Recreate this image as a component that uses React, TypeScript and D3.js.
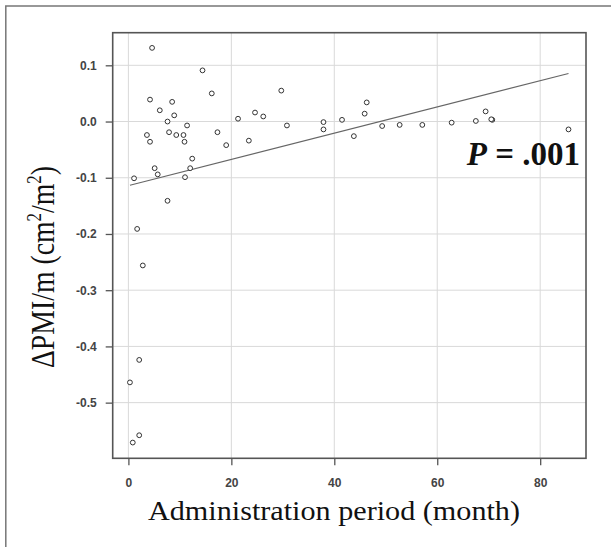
import React, { useEffect, useRef } from "react";
import * as d3 from "d3";

// administration period (month) and delta PMI/m for each patient
const months = [
  4.6, 14.4, 16.2, 29.7, 4.2, 8.5, 6.1, 8.9, 7.6, 7.9,
  3.6, 4.2, 9.3, 10.7, 10.9, 11.4, 17.3, 19.0, 21.3, 24.6,
  26.2, 23.4, 30.8, 12.4, 12.0, 5.1, 5.7, 11.0, 1.1, 7.6,
  1.7, 2.8, 2.1, 0.3, 2.1, 0.85, 37.9, 37.9, 41.5, 43.8,
  45.9, 46.3, 49.3, 52.7, 57.1, 62.8, 67.5, 69.4, 70.7, 70.5,
  85.5,
];
const deltaPmi = [
  0.131, 0.091, 0.05, 0.055, 0.039, 0.035, 0.02, 0.011, 0.0, -0.019,
  -0.024, -0.036, -0.024, -0.024, -0.036, -0.007, -0.019, -0.042, 0.005, 0.016,
  0.009, -0.034, -0.007, -0.066, -0.083, -0.083, -0.094, -0.099, -0.101, -0.141,
  -0.191, -0.256, -0.424, -0.464, -0.558, -0.571, -0.001, -0.014, 0.003, -0.026,
  0.014, 0.034, -0.008, -0.006, -0.006, -0.002, 0.001, 0.018, 0.003, 0.004,
  -0.014,
];

const xTicks = [0, 20, 40, 60, 80];
const yTicks = [0.1, 0.0, -0.1, -0.2, -0.3, -0.4, -0.5];

// fitted line
const fitIntercept = -0.114;
const fitSlope = 0.002334;
const fitRange = [0.3, 85.5];

const W = 611;
const H = 547;

export default function App() {
  const ref = useRef<SVGSVGElement | null>(null);

  useEffect(() => {
    const svg = d3.select(ref.current);
    svg.selectAll("*").remove();

    const left = 112.7, right = 586, top = 32.7, bottom = 458.3;
    const serif = "'Liberation Serif', 'Times New Roman', serif";

    const x = d3.scaleLinear().domain([-3.05, 88.9]).range([left, right]);
    const y = d3.scaleLinear().domain([-0.599, 0.158]).range([bottom, top]);

    // outer figure border (only left and top edges in view)
    svg.append("rect")
      .attr("x", 5.8)
      .attr("y", 6)
      .attr("width", 800)
      .attr("height", 800)
      .attr("fill", "none")
      .attr("stroke", "#777")
      .attr("stroke-width", 1.5);

    // grid
    const grid = svg.append("g").attr("stroke", "#d9d9d9").attr("stroke-width", 1);
    grid.selectAll(".gx")
      .data(xTicks)
      .enter()
      .append("line")
      .attr("x1", d => x(d))
      .attr("x2", d => x(d))
      .attr("y1", top)
      .attr("y2", bottom);
    grid.selectAll(".gy")
      .data(yTicks)
      .enter()
      .append("line")
      .attr("x1", left)
      .attr("x2", right)
      .attr("y1", d => y(d))
      .attr("y2", d => y(d));

    // axes
    const xAxis = d3.axisBottom(x)
      .tickValues(xTicks)
      .tickSize(7)
      .tickPadding(13)
      .tickFormat(d => String(d));
    const yAxis = d3.axisLeft(y)
      .tickValues(yTicks)
      .tickSize(7)
      .tickPadding(9)
      .tickFormat(d => (+d).toFixed(1));

    const gx = svg.append("g")
      .attr("transform", `translate(0, ${bottom})`)
      .call(xAxis);
    const gy = svg.append("g")
      .attr("transform", `translate(${left}, 0)`)
      .call(yAxis);

    [gx, gy].forEach(g => {
      g.select(".domain").remove();
      g.selectAll(".tick line").attr("stroke", "#555").attr("stroke-width", 1.3);
      g.selectAll(".tick text")
        .attr("fill", "#444")
        .attr("font-size", "12px")
        .attr("font-weight", "bold")
        .attr("font-family", "'Liberation Sans', Arial, sans-serif");
    });

    // plot frame
    svg.append("rect")
      .attr("x", left)
      .attr("y", top)
      .attr("width", right - left)
      .attr("height", bottom - top)
      .attr("fill", "none")
      .attr("stroke", "#555")
      .attr("stroke-width", 1.6);

    // regression line
    svg.append("line")
      .attr("x1", x(fitRange[0]))
      .attr("y1", y(fitIntercept + fitSlope * fitRange[0]))
      .attr("x2", x(fitRange[1]))
      .attr("y2", y(fitIntercept + fitSlope * fitRange[1]))
      .attr("stroke", "#666")
      .attr("stroke-width", 1.1);

    // points
    const pts = months.map((m, i) => ({ m, v: deltaPmi[i] }));
    svg.append("g")
      .selectAll("circle")
      .data(pts)
      .enter()
      .append("circle")
      .attr("cx", d => x(d.m))
      .attr("cy", d => y(d.v))
      .attr("r", 2.4)
      .attr("fill", "white")
      .attr("stroke", "#333")
      .attr("stroke-width", 1);

    // p value
    const p = svg.append("text")
      .attr("x", 580)
      .attr("y", 165)
      .attr("text-anchor", "end")
      .attr("font-family", serif)
      .attr("font-size", "33px")
      .attr("font-weight", "bold")
      .attr("fill", "#111");
    p.append("tspan").attr("font-style", "italic").text("P");
    p.append("tspan").text(" = .001");

    // x-axis title
    svg.append("text")
      .attr("x", 148)
      .attr("y", 520)
      .attr("textLength", 372)
      .attr("lengthAdjust", "spacingAndGlyphs")
      .attr("font-family", serif)
      .attr("font-size", "28px")
      .attr("fill", "#111")
      .text("Administration period (month)");

    // y-axis title
    const yt = svg.append("text")
      .attr("transform", "translate(53.5, 368) rotate(-90)")
      .attr("textLength", 202)
      .attr("lengthAdjust", "spacingAndGlyphs")
      .attr("font-family", serif)
      .attr("font-size", "33px")
      .attr("fill", "#111");
    yt.append("tspan").text("ΔPMI/m (cm");
    yt.append("tspan").attr("font-size", "20px").attr("dy", "-13").text("2");
    yt.append("tspan").attr("dy", "13").text("/m");
    yt.append("tspan").attr("font-size", "20px").attr("dy", "-13").text("2");
    yt.append("tspan").attr("dy", "13").text(")");
  }, []);

  return (
    <svg
      ref={ref}
      width={W}
      height={H}
      style={{ position: "absolute", left: 0, top: 0, background: "white" }}
    />
  );
}
